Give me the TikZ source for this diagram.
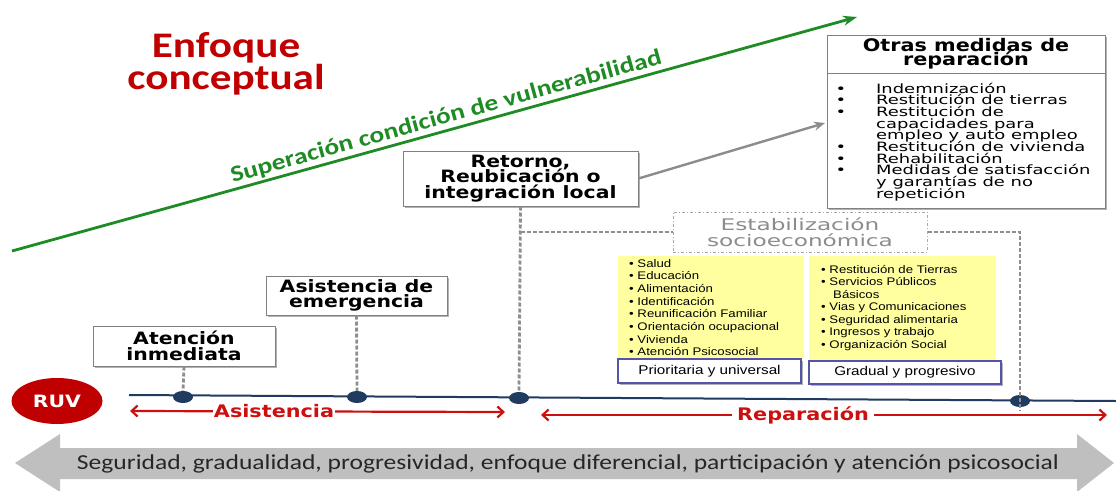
\documentclass[tikz,border=0pt]{standalone}
\usepackage{fontspec}
\usetikzlibrary{arrows.meta,shapes.geometric,shadows}
\newfontfamily\dvs[FakeStretch=1.2]{DejaVu Sans}
\newfontfamily\dvo[FakeStretch=1.4]{DejaVu Sans}
\newfontfamily\dvw[FakeStretch=1.45]{DejaVu Sans}
\newfontfamily\cbs[FakeStretch=1.2]{Carlito}
\newfontfamily\ars[FakeStretch=1.2]{Liberation Sans}
\definecolor{ttlred}{HTML}{C00000}
\definecolor{arrred}{HTML}{CC1010}
\definecolor{grn}{HTML}{1F8B24}
\definecolor{navy}{HTML}{1F3B60}
\definecolor{boxgray}{HTML}{808080}
\definecolor{dashgray}{HTML}{8E8E8E}
\definecolor{estgray}{HTML}{8C8C8C}
\definecolor{estborder}{HTML}{A8A8A8}
\definecolor{ylw}{HTML}{FFFFA0}
\definecolor{bluebd}{HTML}{5454A8}
\definecolor{arrowgray}{HTML}{BFBFBF}
\definecolor{conn}{HTML}{8C8C8C}
\newcommand{\tightlines}{\lineskiplimit=-100pt\lineskip=0pt}
\begin{document}
\begin{tikzpicture}[x=1pt,y=-1pt,
  shd/.style={drop shadow={shadow xshift=1.5pt, shadow yshift=-1.5pt, opacity=0.3, fill=black}},
  stagebox/.style={draw=boxgray, fill=white, line width=1pt, inner sep=0pt, align=center, shd,
    font=\dvs\bfseries\fontsize{17}{15.5}\selectfont\tightlines},
  otrasbox/.style={draw=boxgray, fill=white, line width=1pt, inner sep=0pt, align=center, shd,
    font=\dvs\bfseries\fontsize{17.3}{14}\selectfont\tightlines},
  otrtxt/.style={inner sep=0pt, font=\dvo\fontsize{12.8}{11.7}\selectfont},
  ylist/.style={inner sep=0pt, font=\ars\fontsize{11}{12}\selectfont},
  bluebox/.style={draw=bluebd, fill=white, line width=1.2pt, inner sep=0pt, shd,
    font=\ars\fontsize{12.7}{13}\selectfont},
  dot/.style={ellipse, fill=navy, minimum width=20pt, minimum height=12pt, inner sep=0pt},
  dashconn/.style={draw=dashgray, line width=2.8pt, dash pattern=on 4pt off 2pt},
  redarrow/.style={draw=arrred, line width=2.2pt, {Straight Barb[length=6pt,width=11pt]}-{Straight Barb[length=6pt,width=11pt]}},
  redlbl/.style={fill=white, inner xsep=1pt, inner ysep=0pt, text=arrred, font=\dvs\bfseries\fontsize{17.3}{17}\selectfont},
  ttl/.style={anchor=base, inner sep=0pt, text=ttlred, font=\cbs\bfseries\fontsize{36}{36}\selectfont}
]
\useasboundingbox (0,0) rectangle (1116,490);

% title
\node[ttl] (t1) at (226,57) {Enfoque};
\node[ttl] (t2) at (226,89) {conceptual};

% green arrow
\coordinate (g0) at (12,251);
\coordinate (g1) at (857,17);
\draw[grn, line width=2.8pt, -{Stealth[length=14pt,width=10pt]}] (g0) -- (g1)
  node[pos=0.518, sloped, above, inner sep=2pt, text=grn, font=\cbs\bfseries\fontsize{22.8}{23}\selectfont] (sup) {Superación condición de vulnerabilidad};

% other reparation measures
\node[otrasbox, minimum width=278, minimum height=38] (oth) at (966,54) {Otras medidas de\\reparación};
\node[otrasbox, minimum width=278, minimum height=135, anchor=north] (otl) at (966,73) {};
\foreach \t [count=\i from 0] in {Indemnización, Restitución de tierras, Restitución de, capacidades para, empleo y auto empleo, Restitución de vivienda, Rehabilitación, Medidas de satisfacción, y garantías de no, repetición}
  \node[otrtxt, anchor=base west] (ol\i) at (876,{93+11.7*\i}) {\t};
\foreach \i in {0,1,2,5,6,7}
  \node[otrtxt, anchor=base] (ob\i) at (841,{93+11.7*\i}) {•};

% stage boxes
\node[stagebox, minimum width=182, minimum height=40] (aten) at (184,346) {Atención\\inmediata};
\node[stagebox, minimum width=181, minimum height=39] (asis) at (356.5,295.5) {Asistencia de\\emergencia};
\node[stagebox, minimum width=235, minimum height=55] (ret) at (520.5,178.5) {Retorno,\\Reubicación o\\integración local};

% arrow retorno -> otras
\coordinate (oa) at (825,123);
\draw[conn, line width=2.4pt, -{Stealth[length=11pt,width=9pt]}] (ret.east) -- (oa);

% estabilizacion
\node[draw=estborder, dash pattern=on 3pt off 2pt on 1pt off 2pt, line width=1pt, minimum width=254, minimum height=40, inner sep=0pt, align=center, text=estgray, font=\dvw\fontsize{16}{16}\selectfont\tightlines] (est) at (800,232) {Estabilización\\socioeconómica};

% yellow panels
\node[fill=ylw, minimum width=186, minimum height=103, anchor=north west, inner sep=0pt] (y1) at (618,256) {};
\node[fill=ylw, minimum width=187, minimum height=105, anchor=north west, inner sep=0pt] (y2) at (809,256) {};
\foreach \t [count=\i from 0] in {Salud, Educación, Alimentación, Identificación, Reunificación Familiar, Orientación ocupacional, Vivienda, Atención Psicosocial}
  \node[ylist, anchor=base west] (la\i) at (629,{267+12.7*\i}) {• \t};
\node[ylist, anchor=base west] (lb0) at (821,273) {• Restitución de Tierras};
\node[ylist, anchor=base west] (lb1) at (821,285.5) {• Servicios Públicos};
\node[ylist, anchor=base west] (lb2) at (833,298) {Básicos};
\node[ylist, anchor=base west] (lb3) at (821,310.5) {• Vias y Comunicaciones};
\node[ylist, anchor=base west] (lb4) at (821,323) {• Seguridad alimentaria};
\node[ylist, anchor=base west] (lb5) at (821,335.5) {• Ingresos y trabajo};
\node[ylist, anchor=base west] (lb6) at (821,348) {• Organización Social};

\node[bluebox, minimum width=183, minimum height=24] (pri) at (709.5,371) {Prioritaria y universal};
\node[bluebox, minimum width=192, minimum height=23] (gra) at (905,372.5) {Gradual y progresivo};

% timeline
\coordinate (tl0) at (129,395);
\coordinate (tl1) at (1116,401);
\draw[navy, line width=2pt] (tl0) -- (tl1);
\node[dot] (d1) at (183,397) {};
\node[dot] (d2) at (357,397) {};
\node[dot] (d3) at (519,398) {};
\node[dot] (d4) at (1020,401) {};
\coordinate (e4) at (1020,410);

\draw[dashconn] (aten.south) -- (d1.north);
\draw[dashconn] (asis.south) -- (d2.north);
\draw[dashconn] (ret.south) -- (d3.north);
\draw[dashconn] (ret.south |- est.west) -- (est.west);
\draw[dashconn] (est.east) -- (d4 |- est.east) -- (e4);

% RUV
\node[ellipse, fill=ttlred, minimum width=91pt, minimum height=46pt, inner sep=0pt, text=white, font=\dvs\bfseries\fontsize{17}{17}\selectfont] (ruv) at (57,401) {RUV};

% phase arrows
\coordinate (a0) at (130,411);
\coordinate (a1) at (505,412);
\draw[redarrow] (a0) -- (a1) node[pos=0.384, redlbl] (asl) {Asistencia};
\coordinate (r0) at (541,415);
\coordinate (r1) at (1107,415);
\draw[redarrow] (r0) -- (r1) node[pos=0.463, redlbl, inner xsep=5pt] (rpl) {Reparación};

% bottom principles arrow
\fill[arrowgray] (15,463) -- (60,434) -- (60,448) -- (1077,448) -- (1077,434) -- (1114,463) -- (1077,492) -- (1077,479) -- (60,479) -- (60,492) -- cycle;
\node[inner sep=0pt, text=black!85, font=\cbs\fontsize{21.3}{21}\selectfont] (prin) at (568,464) {Seguridad, gradualidad, progresividad, enfoque diferencial, participación y atención psicosocial};
\end{tikzpicture}
\end{document}
